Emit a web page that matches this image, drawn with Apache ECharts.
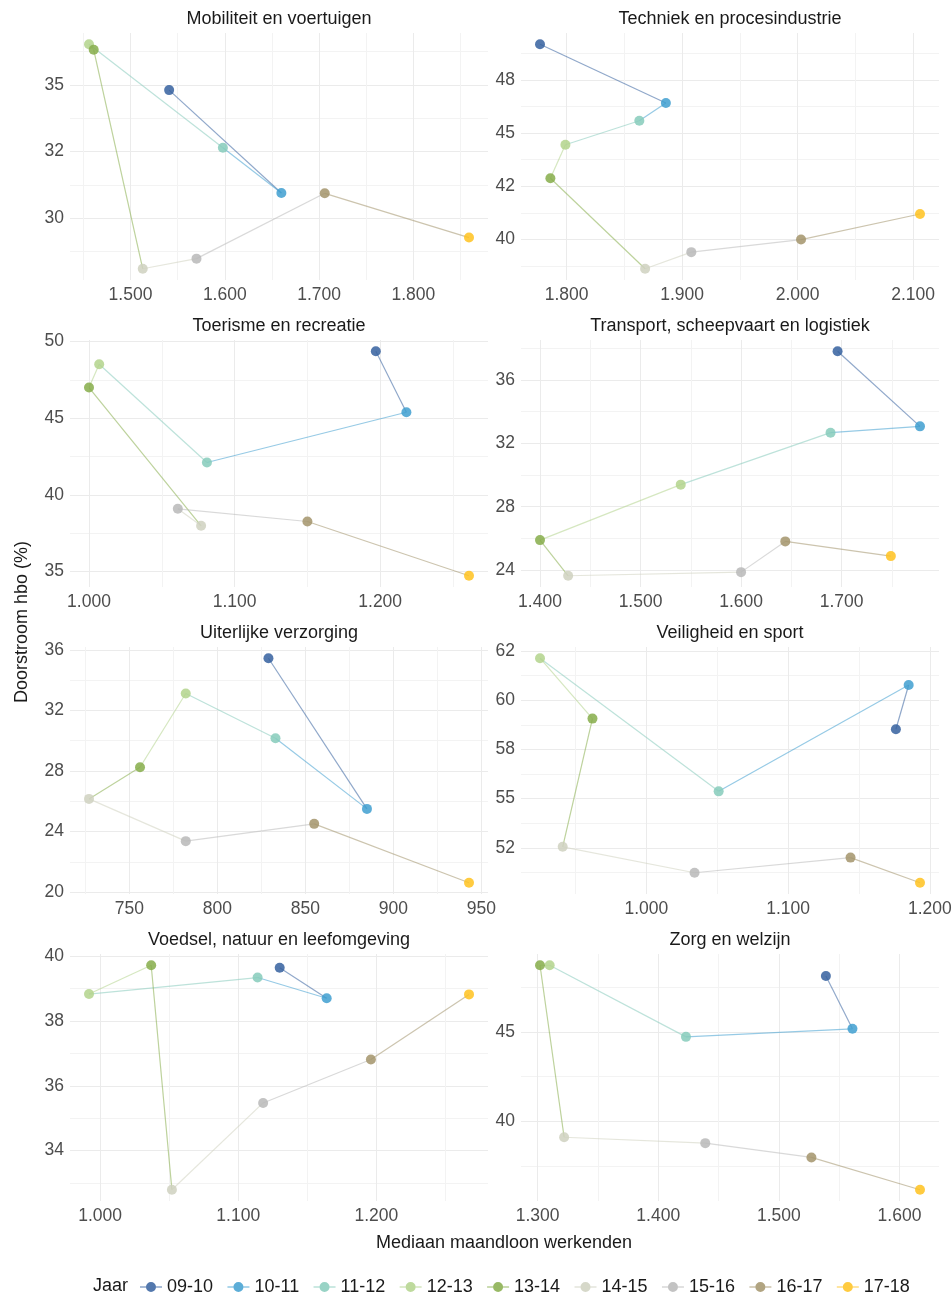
<!DOCTYPE html>
<html>
<head>
<meta charset="utf-8">
<title>Doorstroom hbo en mediaan maandloon</title>
<script src="https://cdn.jsdelivr.net/npm/echarts@6/dist/echarts.min.js"></script>
<style>
  html, body { margin: 0; padding: 0; background: #fff; }
  #chart { width: 952px; height: 1300px; }
</style>
</head>
<body>
<div id="chart"></div>
<script>
// jaren + kleuren (legenda)
const years = ['09-10', '10-11', '11-12', '12-13', '13-14', '14-15', '15-16', '16-17', '17-18'];
const yearColors = ['#35609f', '#3f9fd0', '#86cbbb', '#b3d48c', '#86ad4a', '#cfd1bf', '#b9b9b9', '#a3946b', '#ffc21f'];

// per sector: mediaan maandloon (x) en doorstroom hbo in % (y), één waarde per jaar
const mobiliteitLoon = [1541, 1660, 1598, 1456, 1461, 1513, 1570, 1706, 1859];
const mobiliteitHbo = [34.8, 30.94, 32.64, 36.52, 36.31, 28.1, 28.48, 30.93, 29.27];
const mobiliteitXTicks = [1500, 1600, 1700, 1800];
const mobiliteitYTicks = [30, 32.5, 35];

const techniekLoon = [1777, 1886, 1863, 1799, 1786, 1868, 1908, 2003, 2106];
const techniekHbo = [49.17, 46.41, 45.58, 44.45, 42.88, 38.63, 39.41, 40.0, 41.2];
const techniekXTicks = [1800, 1900, 2000, 2100];
const techniekYTicks = [40, 42.5, 45, 47.5];

const toerismeLoon = [1197, 1218, 1081, 1007, 1000, 1077, 1061, 1150, 1261];
const toerismeHbo = [49.37, 45.39, 42.11, 48.52, 47.0, 37.98, 39.09, 38.26, 34.72];
const toerismeXTicks = [1000, 1100, 1200];
const toerismeYTicks = [35, 40, 45, 50];

const transportLoon = [1696, 1778, 1689, 1540, 1400, 1428, 1600, 1644, 1749];
const transportHbo = [37.81, 33.07, 32.67, 29.39, 25.89, 23.64, 23.87, 25.81, 24.88];
const transportXTicks = [1400, 1500, 1600, 1700];
const transportYTicks = [24, 28, 32, 36];

const uiterlijkLoon = [829, 885, 833, 782, 756, 727, 782, 855, 943];
const uiterlijkHbo = [35.45, 25.5, 30.17, 33.12, 28.25, 26.16, 23.37, 24.51, 20.62];
const uiterlijkXTicks = [750, 800, 850, 900, 950];
const uiterlijkYTicks = [20, 24, 28, 32, 36];

const veiligheidLoon = [1176, 1185, 1051, 925, 962, 941, 1034, 1144, 1193];
const veiligheidHbo = [58.53, 60.78, 55.37, 62.14, 59.07, 52.55, 51.23, 52.0, 50.72];
const veiligheidXTicks = [1000, 1100, 1200];
const veiligheidYTicks = [52.5, 55, 57.5, 60, 62.5];

const voedselLoon = [1130, 1164, 1114, 992, 1037, 1052, 1118, 1196, 1267];
const voedselHbo = [39.64, 38.70, 39.34, 38.83, 39.72, 32.79, 35.47, 36.81, 38.82];
const voedselXTicks = [1000, 1100, 1200];
const voedselYTicks = [34, 36, 38, 40];

const zorgLoon = [1539, 1561, 1423, 1310, 1302, 1322, 1439, 1527, 1617];
const zorgHbo = [48.13, 45.17, 44.72, 48.73, 48.73, 39.1, 38.77, 37.97, 36.16];
const zorgXTicks = [1300, 1400, 1500, 1600];
const zorgYTicks = [40, 45];

const panels = [
  { title: 'Mobiliteit en voertuigen', loon: mobiliteitLoon, hbo: mobiliteitHbo, xTicks: mobiliteitXTicks, yTicks: mobiliteitYTicks },
  { title: 'Techniek en procesindustrie', loon: techniekLoon, hbo: techniekHbo, xTicks: techniekXTicks, yTicks: techniekYTicks },
  { title: 'Toerisme en recreatie', loon: toerismeLoon, hbo: toerismeHbo, xTicks: toerismeXTicks, yTicks: toerismeYTicks },
  { title: 'Transport, scheepvaart en logistiek', loon: transportLoon, hbo: transportHbo, xTicks: transportXTicks, yTicks: transportYTicks },
  { title: 'Uiterlijke verzorging', loon: uiterlijkLoon, hbo: uiterlijkHbo, xTicks: uiterlijkXTicks, yTicks: uiterlijkYTicks },
  { title: 'Veiligheid en sport', loon: veiligheidLoon, hbo: veiligheidHbo, xTicks: veiligheidXTicks, yTicks: veiligheidYTicks },
  { title: 'Voedsel, natuur en leefomgeving', loon: voedselLoon, hbo: voedselHbo, xTicks: voedselXTicks, yTicks: voedselYTicks },
  { title: 'Zorg en welzijn', loon: zorgLoon, hbo: zorgHbo, xTicks: zorgXTicks, yTicks: zorgYTicks }
];

const FONT = 'Liberation Sans';
const TXT = '#1a1a1a';
const TICK_TXT = '#4d4d4d';
const colLeft = [70, 521];
const rowTop = [33, 340, 647, 954];
const panelW = 418;
const panelH = 247;

// ggplot-achtige schaaluitbreiding van 5%
function expand(vals) {
  const lo = Math.min(...vals), hi = Math.max(...vals), pad = (hi - lo) * 0.05;
  return [lo - pad, hi + pad];
}

// minor gridlijnen halverwege de breaks
function minorBreaks(ticks, lo, hi) {
  const step = (ticks[1] - ticks[0]) / 2;
  const out = [];
  let v = ticks[0] - step;
  while (v - 2 * step >= lo) v -= 2 * step;
  for (; v <= hi; v += 2 * step) {
    if (v >= lo) out.push(+v.toFixed(4));
  }
  return out;
}

function formatLoon(v) {
  v = Math.round(v);
  if (v >= 1000) return Math.floor(v / 1000) + '.' + String(v % 1000).padStart(3, '0');
  return String(v);
}

// R rondt .5 af naar even (32.5 -> 32)
function formatPct(v) {
  const f = Math.floor(v);
  if (Math.abs(v - f - 0.5) < 1e-9) return String(f % 2 === 0 ? f : f + 1);
  return String(Math.round(v));
}

const grid = [], xAxis = [], yAxis = [], series = [], graphic = [];

panels.forEach((p, i) => {
  const left = colLeft[i % 2];
  const top = rowTop[Math.floor(i / 2)];
  grid.push({ left: left, top: top, width: panelW, height: panelH, containLabel: false, outerBoundsMode: 'none' });

  const xr = expand(p.loon);
  const yr = expand(p.hbo);

  // hoofdas met labels + major gridlijnen
  xAxis.push({
    gridIndex: i, type: 'value', min: xr[0], max: xr[1],
    axisLine: { show: false },
    axisTick: { show: false, customValues: p.xTicks },
    axisLabel: { customValues: p.xTicks, formatter: formatLoon, color: TICK_TXT, fontSize: 17.5, fontFamily: FONT, margin: 6 },
    splitLine: { show: true, lineStyle: { color: '#ebebeb', width: 1 } }
  });
  yAxis.push({
    gridIndex: i, type: 'value', min: yr[0], max: yr[1],
    axisLine: { show: false },
    axisTick: { show: false, customValues: p.yTicks },
    axisLabel: { customValues: p.yTicks, formatter: formatPct, color: TICK_TXT, fontSize: 17.5, fontFamily: FONT, margin: 6 },
    splitLine: { show: true, lineStyle: { color: '#ebebeb', width: 1 } }
  });
});

// tweede set assen alleen voor de minor gridlijnen
panels.forEach((p, i) => {
  const xr = expand(p.loon);
  const yr = expand(p.hbo);
  xAxis.push({
    gridIndex: i, type: 'value', min: xr[0], max: xr[1],
    axisLine: { show: false }, axisLabel: { show: false },
    axisTick: { show: false, customValues: minorBreaks(p.xTicks, xr[0], xr[1]) },
    splitLine: { show: true, lineStyle: { color: '#f3f3f3', width: 1 } }
  });
  yAxis.push({
    gridIndex: i, type: 'value', min: yr[0], max: yr[1],
    axisLine: { show: false }, axisLabel: { show: false },
    axisTick: { show: false, customValues: minorBreaks(p.yTicks, yr[0], yr[1]) },
    splitLine: { show: true, lineStyle: { color: '#f3f3f3', width: 1 } }
  });
});

panels.forEach((p, i) => {
  // lijnstukken, kleur van het beginjaar
  for (let k = 0; k < years.length - 1; k++) {
    series.push({
      type: 'line', xAxisIndex: i, yAxisIndex: i, silent: true,
      symbol: 'none', z: 2,
      data: [[p.loon[k], p.hbo[k]], [p.loon[k + 1], p.hbo[k + 1]]],
      lineStyle: { color: yearColors[k], width: 1.2, opacity: 0.55 }
    });
  }
  // punten per jaar
  years.forEach((yr, k) => {
    series.push({
      name: yr, type: 'scatter', xAxisIndex: i, yAxisIndex: i, z: 3,
      symbolSize: 10,
      data: [[p.loon[k], p.hbo[k]]],
      itemStyle: { color: yearColors[k], opacity: 0.85 }
    });
  });

  graphic.push({
    type: 'text',
    x: colLeft[i % 2] + panelW / 2,
    y: rowTop[Math.floor(i / 2)] - 14,
    style: { text: p.title, fill: TXT, font: '18px "' + FONT + '"', textAlign: 'center', textVerticalAlign: 'middle' }
  });
});

graphic.push({
  type: 'text', x: 504, y: 1243,
  style: { text: 'Mediaan maandloon werkenden', fill: TXT, font: '18px "' + FONT + '"', textAlign: 'center', textVerticalAlign: 'middle' }
});
graphic.push({
  type: 'text', x: 22, y: 622, rotation: Math.PI / 2,
  style: { text: 'Doorstroom hbo (%)', fill: TXT, font: '18px "' + FONT + '"', textAlign: 'center', textVerticalAlign: 'middle' }
});
graphic.push({
  type: 'text', x: 93, y: 1286,
  style: { text: 'Jaar', fill: TXT, font: '18px "' + FONT + '"', textAlign: 'left', textVerticalAlign: 'middle' }
});

const chart = echarts.init(document.getElementById('chart'), null, { renderer: 'canvas' });
chart.setOption({
  animation: false,
  backgroundColor: '#ffffff',
  grid: grid,
  xAxis: xAxis,
  yAxis: yAxis,
  legend: {
    data: years,
    left: 135,
    top: 1273,
    itemWidth: 22,
    itemHeight: 11,
    itemGap: 14.4,
    icon: 'path://M0,5L22,5L22,6L0,6Z M11,0.5A5,5,0,1,1,10.99,0.5Z',
    textStyle: { color: TXT, fontSize: 18, fontFamily: FONT }
  },
  graphic: graphic,
  series: series
});
</script>
</body>
</html>
